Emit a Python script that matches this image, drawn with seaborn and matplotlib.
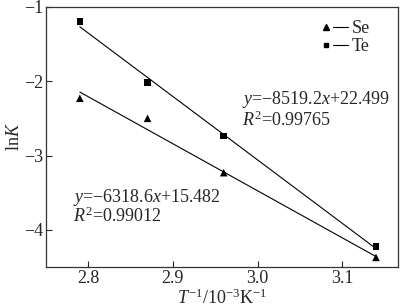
import numpy as np
import pandas as pd
import seaborn as sns
import matplotlib
matplotlib.use("Agg")
import matplotlib.pyplot as plt
from matplotlib.lines import Line2D
from matplotlib.legend_handler import HandlerTuple

# data
x_vals = [2.79, 2.87, 2.96, 3.14]
se_vals = [-2.23, -2.50, -3.23, -4.37]
te_vals = [-1.20, -2.02, -2.74, -4.22]
se_fit = [-6.3186, 15.482]   # slope (per 10^-3 K^-1), intercept
te_fit = [-8.5192, 22.499]
x_ticks = [2.8, 2.9, 3.0, 3.1]
y_ticks = [-4, -3, -2, -1]

sns.set_style("ticks")
plt.rcParams['font.family'] = ['Liberation Serif', 'DejaVu Serif']
plt.rcParams['mathtext.fontset'] = 'custom'
plt.rcParams['mathtext.rm'] = 'Liberation Serif'
plt.rcParams['mathtext.it'] = 'Liberation Serif:italic'

FS = 13
MINUS = "\u2212"

fig = plt.figure(figsize=(4.0, 3.07), dpi=100)
ax = fig.add_axes([0.115, 0.13, 0.88, 0.848])

df = pd.DataFrame({"x": x_vals + x_vals,
                   "y": se_vals + te_vals,
                   "s": ["Se"] * 4 + ["Te"] * 4})

sns.scatterplot(data=df[df.s == "Se"], x="x", y="y", marker="^", color="black",
                s=30, edgecolor="none", ax=ax, legend=False, zorder=3)
sns.scatterplot(data=df[df.s == "Te"], x="x", y="y", marker="s", color="black",
                s=22, edgecolor="none", ax=ax, legend=False, zorder=3)

xl = np.array([x_vals[0], x_vals[-1]])
for fit in (se_fit, te_fit):
    sns.lineplot(x=xl, y=fit[0] * xl + fit[1], color="black", lw=0.8, ax=ax)

ax.set_xlim(2.75, 3.166)
ax.set_ylim(-4.5, -1)
ax.set_xticks(x_ticks)
ax.set_xticklabels(["2.8", "2.9", "3.0", "3.1"])
ax.set_yticks(y_ticks)
ax.set_yticklabels([MINUS + "4", MINUS + "3", MINUS + "2", MINUS + "1"])
ax.tick_params(direction="in", length=4, width=0.8, labelsize=FS, pad=2)
for sp in ax.spines.values():
    sp.set_linewidth(0.9)
    sp.set_color("#333333")

ax.set_xlabel(r"$T^{-1}$/10$^{-3}$K$^{-1}$", fontsize=FS, labelpad=1)
ax.set_ylabel(r"ln$K$", fontsize=FS, labelpad=1)

ax.text(2.982, -2.25, r"$y$=" + MINUS + r"8519.2$x$+22.499", fontsize=FS, va="center")
ax.text(2.982, -2.52, r"$R^2$=0.99765", fontsize=FS, va="center")
ax.text(2.782, -3.56, r"$y$=" + MINUS + r"6318.6$x$+15.482", fontsize=FS, va="center")
ax.text(2.782, -3.82, r"$R^2$=0.99012", fontsize=FS, va="center")

h_se = (Line2D([], [], marker="^", ls="none", color="black", markersize=4),
        Line2D([], [], color="black", lw=0.8))
h_te = (Line2D([], [], marker="s", ls="none", color="black", markersize=3.5),
        Line2D([], [], color="black", lw=0.8))
ax.legend([h_se, h_te], ["Se", "Te"], handler_map={tuple: HandlerTuple(ndivide=None, pad=0)},
          loc="upper right", frameon=False, fontsize=FS, handlelength=1.6,
          handletextpad=0.2, labelspacing=0.05, borderaxespad=0.0,
          bbox_to_anchor=(0.94, 0.975))

fig.savefig("out.png", dpi=100)
